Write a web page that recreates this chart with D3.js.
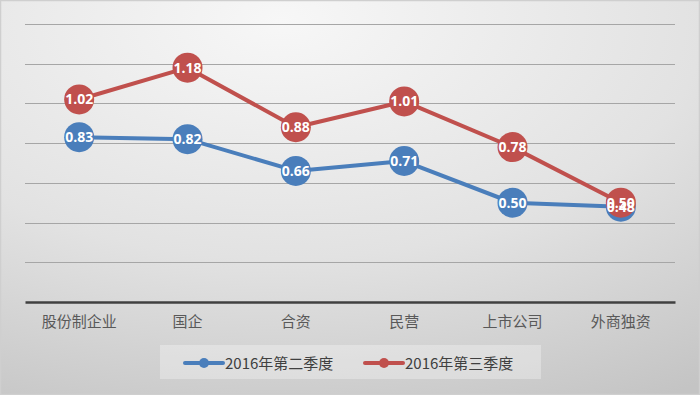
<!DOCTYPE html>
<html>
<head>
<meta charset="utf-8">
<script src="https://cdn.jsdelivr.net/npm/d3@7"></script>
<style>
  body { margin: 0; background: #fff; }
  svg { display: block; }
</style>
</head>
<body>
<svg id="chart" width="700" height="395"></svg>
<script>
// categories and the two quarters
var categories = ["股份制企业", "国企", "合资", "民营", "上市公司", "外商独资"];
var q2Values = [0.83, 0.82, 0.66, 0.71, 0.50, 0.48];
var q3Values = [1.02, 1.18, 0.88, 1.01, 0.78, 0.50];
var seriesNames = ["2016年第二季度", "2016年第三季度"];
var gridTicks = [0, 0.2, 0.4, 0.6, 0.8, 1.0, 1.2, 1.4];

var colors = ["#4a7ebb", "#c0504d"];
var series = [
  {name: seriesNames[0], values: q2Values, color: colors[0]},
  {name: seriesNames[1], values: q3Values, color: colors[1]}
];

var W = 700, H = 395;
var plot = {left: 25, right: 675, top: 24, bottom: 302};
var font = "'Noto Sans CJK SC', 'Noto Sans', sans-serif";

var svg = d3.select("#chart");

// background gradient
var defs = svg.append("defs");
var grad = defs.append("radialGradient")
  .attr("id", "bg")
  .attr("cx", "40%").attr("cy", "5%")
  .attr("r", "110%")
  .attr("gradientUnits", "objectBoundingBox");
grad.append("stop").attr("offset", "0%").attr("stop-color", "#f7f7f7");
grad.append("stop").attr("offset", "55%").attr("stop-color", "#e2e2e2");
grad.append("stop").attr("offset", "100%").attr("stop-color", "#c4c4c4");

svg.append("rect")
  .attr("x", 0.5).attr("y", 0.5)
  .attr("width", W - 1).attr("height", H - 1)
  .style("fill", "url(#bg)")
  .style("stroke", "#cfcfcf")
  .style("stroke-width", 1.5);

var x = d3.scaleBand()
  .domain(categories)
  .range([plot.left, plot.right]);

var y = d3.scaleLinear()
  .domain([0, 1.4])
  .range([plot.bottom, plot.top]);

// gridlines
svg.append("g")
  .selectAll("line")
  .data(gridTicks.slice(1))
  .enter().append("line")
    .attr("x1", plot.left).attr("x2", plot.right)
    .attr("y1", function(d){ return Math.round(y(d)) + 0.5; })
    .attr("y2", function(d){ return Math.round(y(d)) + 0.5; })
    .style("stroke", "#a6a6a6")
    .style("stroke-width", 1.2);

// x axis
var xAxis = svg.append("g")
  .attr("transform", "translate(0," + plot.bottom + ")")
  .call(d3.axisBottom(x).tickSize(0).tickPadding(14));
xAxis.select(".domain")
  .style("stroke", "#404040")
  .style("stroke-width", 2.5);
xAxis.selectAll("text")
  .style("font-family", font)
  .style("font-size", "15px")
  .style("fill", "#595959");

var cx = function(d, i){ return x(categories[i]) + x.bandwidth() / 2; };

var line = d3.line()
  .x(function(d, i){ return cx(d, i); })
  .y(function(d){ return y(d); });

// lines and markers first
series.forEach(function(s){
  var g = svg.append("g");
  g.append("path")
    .attr("d", line(s.values))
    .style("fill", "none")
    .style("stroke", s.color)
    .style("stroke-width", 4)
    .style("stroke-linejoin", "round");
  g.selectAll("circle")
    .data(s.values)
    .enter().append("circle")
      .attr("cx", cx)
      .attr("cy", function(d){ return y(d); })
      .attr("r", 15)
      .style("fill", s.color);
});

// data labels on top of every marker
series.forEach(function(s){
  svg.append("g").selectAll("text")
    .data(s.values)
    .enter().append("text")
      .attr("x", cx)
      .attr("y", function(d){ return y(d) + 5; })
      .attr("text-anchor", "middle")
      .style("font-family", "'Open Sans', 'Noto Sans', sans-serif")
      .style("font-weight", "bold")
      .style("font-size", "14px")
      .style("fill", "#ffffff")
      .text(function(d){ return d.toFixed(2); });
});

// legend
var legend = svg.append("g");
legend.append("rect")
  .attr("x", 160).attr("y", 345)
  .attr("width", 381).attr("height", 34)
  .style("fill", "#ffffff")
  .style("fill-opacity", 0.3);

var legendX = [185, 365];
series.forEach(function(s, i){
  var lg = legend.append("g").attr("transform", "translate(" + legendX[i] + ",363)");
  lg.append("line")
    .attr("x1", 0).attr("x2", 38)
    .attr("y1", 0).attr("y2", 0)
    .style("stroke", s.color)
    .style("stroke-width", 4)
    .style("stroke-linecap", "round");
  lg.append("circle")
    .attr("cx", 19).attr("cy", 0).attr("r", 5)
    .style("fill", s.color);
  lg.append("text")
    .attr("x", 40).attr("y", 5.5)
    .style("font-family", font)
    .style("font-size", "15px")
    .style("fill", "#404040")
    .text(s.name);
});
</script>
</body>
</html>
